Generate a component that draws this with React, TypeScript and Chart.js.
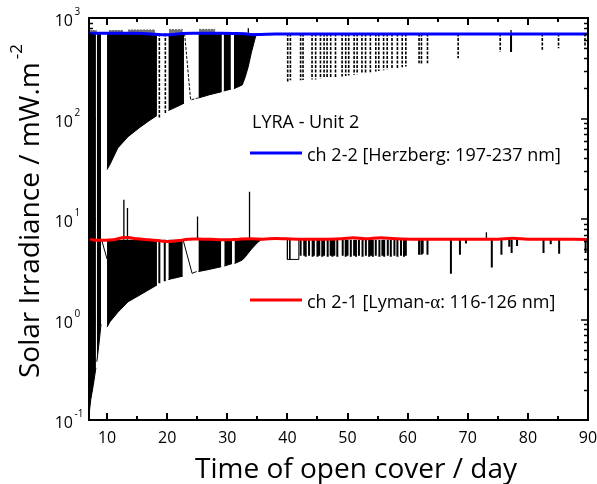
import React, { useEffect, useRef } from 'react';
import { Chart, registerables } from 'chart.js';

Chart.register(...registerables);

// ---------- axis ticks ----------
const X_MIN = 7;
const X_MAX = 90;
const Y_MIN = 0.1;
const Y_MAX = 1000;
const xTicksMajor = [10, 20, 30, 40, 50, 60, 70, 80, 90];
const xTicksMinor = [15, 25, 35, 45, 55, 65, 75, 85];
const yTicksMajor = [0.1, 1, 10, 100, 1000];
const yTickExponents = ['-1', '0', '1', '2', '3'];
const yMinorFactors = [2, 3, 4, 5, 6, 7, 8, 9];

// ---------- nominal levels of the raw signals ----------
const CH22_LEVEL = 700;
const CH21_LEVEL = 6.2;

// ---------- smoothed curves ----------
const ch22SmoothDays = [7, 10, 13, 16, 18, 19.5, 21, 22.5, 25, 28, 31, 33, 34, 35.5, 38, 45, 50, 55, 60, 65, 70, 75, 80, 85, 90];
const ch22SmoothVals = [706, 706, 704, 702, 690, 680, 684, 700, 704, 704, 703, 698, 684, 686, 692, 694, 694, 694, 694, 694, 694, 694, 694, 694, 693];

const ch21SmoothDays = [7, 9, 11, 12.5, 13.5, 15, 17, 19, 20.5, 22, 23.5, 26, 28, 30, 32, 34, 36, 38, 40, 43, 46, 49, 51, 53, 55.5, 58, 61, 65, 70, 75, 77.5, 80, 85, 90];
const ch21SmoothVals = [6.2, 6.15, 6.2, 6.5, 6.55, 6.35, 6.2, 6.05, 5.98, 6.1, 6.3, 6.3, 6.25, 6.2, 6.3, 6.35, 6.3, 6.4, 6.35, 6.3, 6.3, 6.35, 6.5, 6.35, 6.5, 6.35, 6.3, 6.3, 6.3, 6.3, 6.45, 6.3, 6.3, 6.25];

// ---------- raw ch 2-2: lower envelope of the dense occultation blocks (null = gap) ----------
const ch22EnvDays = [10.0, 10.5, 11.8, 13.5, 15.5, 17.0, 18.3, null, 20.2, 21.5, 22.8, null, 25.2, 27.0, 29.1, null, 29.4, 30.6, null, 31.1, 32.5, 33.0, 33.5, 34.0, 34.7, 35.1];
const ch22EnvVals = [31, 35, 51, 66, 82, 95, 107, null, 120, 130, 142, null, 160, 172, 185, null, 188, 196, null, 198, 216, 260, 330, 450, 650, 700];

// raw ch 2-2 excursions just above the nominal level
const ch22TopDays = [7.2, 8.3, null, 10.3, 12.7, null, 13.5, 18.0, null, 20.3, 22.6, null, 25.3, 28.0];
const ch22TopVals = [750, 750, null, 750, 750, null, 760, 760, null, 765, 765, null, 770, 770];

// ---------- raw ch 2-1: lower envelope of the dense blocks ----------
const ch21EnvDays = [10.0, 10.5, 11.8, 13.5, 15.8, 18.3, null, 20.2, 22.6, null, 25.2, 27.0, 29.0, null, 29.5, 30.8, null, 31.2, 32.5, 33.0, 34.0, 35.0, 35.6];
const ch21EnvVals = [0.84, 0.95, 1.18, 1.5, 1.8, 2.2, null, 2.5, 2.7, null, 3.0, 3.15, 3.35, null, 3.4, 3.6, null, 3.6, 3.9, 4.2, 5.0, 5.8, 6.2];

// first days: both channels saturated down to the ch 2-1 envelope
const earlyDays = [6.98, 7.3, 7.7, 8.15, null, 8.3, 8.7, 9.0];
const earlyVals = [0.11, 0.16, 0.22, 0.33, null, 0.38, 0.6, 0.9];

// ---------- isolated dips ----------
const ch22DipDays = [18.7, 19.7, 40.05, 40.5, 42.2, 42.6, 44.1, 44.7, 45.5, 46.1, 46.6, 47.2, 48.0, 49.1, 49.7, 50.2, 51.1, 51.6, 52.4, 53.0, 53.8, 54.7, 55.2, 56.0, 56.6, 57.4, 58.3, 59.1, 59.7, 61.9, 62.3, 63.3, 68.4, 75.4, 82.4, 85.1, 89.5];
const ch22DipMins = [100, 112, 232, 240, 240, 242, 245, 245, 248, 250, 252, 255, 258, 262, 265, 268, 272, 276, 280, 283, 288, 294, 297, 302, 306, 312, 318, 324, 329, 355, 352, 355, 398, 458, 482, 500, 512];
const ch22SolidDipDays = [77.2];
const ch22SolidDipMins = [458];

const ch21DipDays = [18.7, 19.6, 42.2, 42.8, 43.05, 43.6, 44.2, 44.4, 45.0, 45.3, 45.8, 46.1, 46.7, 47.2, 47.5, 47.8, 48.3, 49.2, 49.7, 50.0, 50.55, 51.1, 51.4, 51.9, 52.5, 53.05, 53.6, 53.9, 54.2, 54.7, 55.3, 55.8, 56.1, 56.7, 57.2, 57.8, 58.3, 58.9, 59.4, 59.7, 61.9, 62.3, 62.5, 63.3, 67.2, 68.7, 69.7, 74.0, 75.6, 76.9, 77.3, 78.2, 82.6, 83.8, 85.2, 89.6];
const ch21DipMins = [2.3, 2.4, 4.3, 4.3, 4.2, 4.3, 4.2, 4.3, 4.2, 4.3, 4.2, 4.3, 4.2, 4.3, 4.2, 4.3, 4.2, 4.3, 4.2, 4.3, 4.2, 4.3, 4.2, 4.3, 4.2, 4.3, 4.2, 4.3, 4.2, 4.3, 4.2, 4.3, 4.2, 4.3, 4.2, 4.3, 4.2, 4.3, 4.2, 4.3, 4.4, 4.4, 4.5, 4.4, 2.85, 4.4, 5.7, 3.3, 4.4, 5.3, 4.6, 5.4, 4.6, 5.6, 4.5, 4.6];

// upward spikes of ch 2-1 and ch 2-2
const ch21SpikeDays = [12.8, 13.4, 25.05, 33.7, 73.1];
const ch21SpikeMaxs = [15.5, 12.9, 10.6, 18.7, 7.4];
const ch22SpikeDays = [33.5, 77.2];
const ch22SpikeMaxs = [790, 760];

// connecting segments of the raw traces inside gaps
const ch22LinkDays = [22.9, 23.9, 25.1];
const ch22LinkVals = [700, 153, 160];
const ch21LinkDays = [9.1, 10.0, null, 22.65, 24.15, 24.9, null, 40.0, 40.0, 41.9, 41.9, null, 40.4, 40.4];
const ch21LinkVals = [6.2, 4.0, null, 6.2, 2.88, 3.0, null, 6.2, 3.96, 3.96, 6.2, null, 6.2, 3.96];

// ---------- texts ----------
const xTitle = 'Time of open cover / day';
const yTitle = 'Solar Irradiance / mW.m';
const yTitleSup = '-2';
const legendTitle = 'LYRA - Unit 2';
const legend22 = 'ch 2-2 [Herzberg: 197-237 nm]';
const legend21a = 'ch 2-1 [Lyman-';
const legend21b = '\u03B1';
const legend21c = ': 116-126 nm]';

const FONT = '"Open Sans", "DejaVu Sans", sans-serif';

type P = { x: number; y: number | null };

function toPoints(days: (number | null)[], vals: (number | null)[]): P[] {
  const out: P[] = [];
  let last = days.find((d) => d !== null) as number;
  days.forEach((d, i) => {
    if (d === null) {
      out.push({ x: last, y: null });
    } else {
      last = d;
      out.push({ x: d, y: vals[i] });
    }
  });
  return out;
}

function verticals(days: number[], ends: number[], level: number): P[] {
  const out: P[] = [];
  days.forEach((d, i) => {
    out.push({ x: d, y: level });
    out.push({ x: d, y: ends[i] });
    out.push({ x: d, y: null });
  });
  return out;
}

const framePlugin = {
  id: 'framePlugin',
  afterDraw(chart: any) {
    const { ctx, chartArea: a } = chart;
    const xs = chart.scales.x;
    const ys = chart.scales.y;
    ctx.save();
    ctx.strokeStyle = '#000';
    ctx.fillStyle = '#000';
    ctx.lineWidth = 2;
    ctx.strokeRect(a.left, a.top, a.right - a.left, a.bottom - a.top);

    const line = (x1: number, y1: number, x2: number, y2: number) => {
      ctx.beginPath();
      ctx.moveTo(x1, y1);
      ctx.lineTo(x2, y2);
      ctx.stroke();
    };
    ctx.lineWidth = 2;
    const MAJ = 7;
    const MIN = 4;
    xTicksMajor.forEach((v) => {
      const px = Math.round(xs.getPixelForValue(v));
      line(px, a.bottom, px, a.bottom - MAJ);
      line(px, a.top, px, a.top + MAJ);
    });
    xTicksMinor.forEach((v) => {
      const px = Math.round(xs.getPixelForValue(v));
      line(px, a.bottom, px, a.bottom - MIN);
      line(px, a.top, px, a.top + MIN);
    });
    ctx.lineWidth = 1.5;
    yTicksMajor.forEach((v, i) => {
      const py = Math.round(ys.getPixelForValue(v));
      line(a.left, py, a.left + MAJ, py);
      line(a.right, py, a.right - MAJ, py);
      if (i < yTicksMajor.length - 1) {
        yMinorFactors.forEach((f) => {
          const pm = Math.round(ys.getPixelForValue(v * f)) + 0.5;
          line(a.left, pm, a.left + MIN, pm);
          line(a.right, pm, a.right - MIN, pm);
        });
      }
    });

    // x tick labels
    ctx.font = `16px ${FONT}`;
    ctx.textAlign = 'center';
    ctx.textBaseline = 'alphabetic';
    xTicksMajor.forEach((v) => {
      ctx.fillText(String(v), xs.getPixelForValue(v), a.bottom + 23);
    });

    // y tick labels 10^n
    yTicksMajor.forEach((v, i) => {
      const py = ys.getPixelForValue(v);
      ctx.font = `16px ${FONT}`;
      ctx.textAlign = 'right';
      ctx.fillText('10', 73, py + 8);
      ctx.font = `10px ${FONT}`;
      ctx.textAlign = 'left';
      ctx.fillText(yTickExponents[i], 74.5, py - 3);
    });

    // axis titles
    ctx.font = `28px ${FONT}`;
    ctx.textAlign = 'left';
    ctx.fillText(xTitle, 195, 478);

    ctx.save();
    ctx.translate(39, 378);
    ctx.rotate(-Math.PI / 2);
    ctx.font = `28px ${FONT}`;
    ctx.fillText(yTitle, 0, 0);
    const w = ctx.measureText(yTitle).width;
    ctx.font = `17px ${FONT}`;
    ctx.fillText(yTitleSup, w + 3, -17);
    ctx.restore();

    // legend
    ctx.font = `18px ${FONT}`;
    ctx.fillText(legendTitle, 252, 128);
    ctx.lineWidth = 3;
    ctx.strokeStyle = '#0000ff';
    line(250, 153, 302, 153);
    ctx.strokeStyle = '#ff0000';
    line(250, 300, 302, 300);
    ctx.fillText(legend22, 307, 161);
    let lx = 307;
    ctx.fillText(legend21a, lx, 308);
    lx += ctx.measureText(legend21a).width;
    ctx.font = `19px "Liberation Serif", "DejaVu Serif", serif`;
    ctx.fillText(legend21b, lx, 308);
    lx += ctx.measureText(legend21b).width;
    ctx.font = `18px ${FONT}`;
    ctx.fillText(legend21c, lx, 308);
    ctx.restore();
  },
};

export default function App() {
  const ref = useRef<HTMLCanvasElement | null>(null);
  useEffect(() => {
    if (!ref.current) return;
    const black = '#000000';
    const base = { pointRadius: 0, pointHoverRadius: 0, tension: 0, spanGaps: false };
    const chart = new Chart(ref.current, {
      type: 'line',
      data: {
        datasets: [
          { ...base, label: 'ch 2-2 smooth', data: toPoints(ch22SmoothDays, ch22SmoothVals), borderColor: '#0000ff', borderWidth: 3, tension: 0.4, fill: false },
          { ...base, label: 'ch 2-1 smooth', data: toPoints(ch21SmoothDays, ch21SmoothVals), borderColor: '#ff0000', borderWidth: 3, tension: 0.4, fill: false },
          { ...base, label: 'ch 2-1 spikes', data: verticals(ch21SpikeDays, ch21SpikeMaxs, CH21_LEVEL), borderColor: black, borderWidth: 1.3, fill: false },
          { ...base, label: 'ch 2-2 spikes', data: verticals(ch22SpikeDays, ch22SpikeMaxs, CH22_LEVEL), borderColor: black, borderWidth: 1.3, fill: false },
          { ...base, label: 'ch 2-1 dips', data: verticals(ch21DipDays, ch21DipMins, CH21_LEVEL), borderColor: black, borderWidth: 2, fill: false },
          { ...base, label: 'ch 2-2 dips', data: verticals(ch22DipDays, ch22DipMins, CH22_LEVEL), borderColor: black, borderWidth: 1.6, borderDash: [3, 1.5], fill: false },
          { ...base, label: 'ch 2-2 solid dips', data: verticals(ch22SolidDipDays, ch22SolidDipMins, CH22_LEVEL), borderColor: black, borderWidth: 2, fill: false },
          { ...base, label: 'ch 2-1 links', data: toPoints(ch21LinkDays, ch21LinkVals), borderColor: black, borderWidth: 1, fill: false },
          { ...base, label: 'ch 2-2 links', data: toPoints(ch22LinkDays, ch22LinkVals), borderColor: black, borderWidth: 1, borderDash: [3, 1.5], fill: false },
          { ...base, label: 'ch 2-2 top', data: toPoints(ch22TopDays, ch22TopVals), borderColor: '#666', borderWidth: 1, borderDash: [2, 1], backgroundColor: '#777', fill: { value: CH22_LEVEL } },
          { ...base, label: 'ch 2-2 blocks', data: toPoints(ch22EnvDays, ch22EnvVals), borderColor: black, borderWidth: 1, backgroundColor: black, fill: { value: CH22_LEVEL } },
          { ...base, label: 'ch 2-1 blocks', data: toPoints(ch21EnvDays, ch21EnvVals), borderColor: black, borderWidth: 1, backgroundColor: black, fill: { value: CH21_LEVEL } },
          { ...base, label: 'early blocks', data: toPoints(earlyDays, earlyVals), borderColor: black, borderWidth: 1, backgroundColor: black, fill: { value: CH22_LEVEL } },
        ] as any,
      },
      options: {
        animation: false,
        responsive: false,
        maintainAspectRatio: false,
        devicePixelRatio: 1,
        layout: { padding: { left: 89, right: 9, top: 18, bottom: 64 } },
        scales: {
          x: { type: 'linear', min: X_MIN, max: X_MAX, display: false },
          y: { type: 'logarithmic', min: Y_MIN, max: Y_MAX, display: false },
        },
        plugins: { legend: { display: false }, tooltip: { enabled: false } },
        events: [],
      } as any,
      plugins: [framePlugin],
    });
    return () => chart.destroy();
  }, []);
  return (
    <div style={{ position: 'absolute', left: 0, top: 0, width: 597, height: 484, background: '#fff' }}>
      <canvas ref={ref} width={597} height={484} style={{ display: 'block' }} />
    </div>
  );
}
